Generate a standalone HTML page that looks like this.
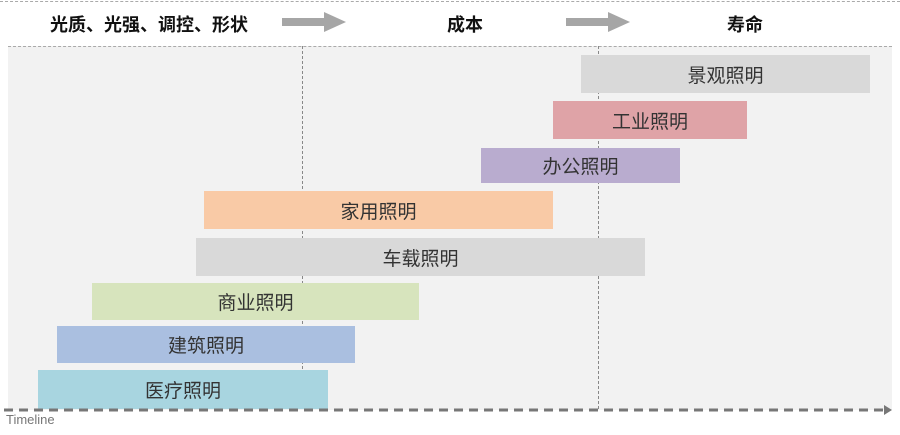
<!DOCTYPE html>
<html><head><meta charset="utf-8"><style>
body{margin:0;width:900px;height:435px;background:#fff;position:relative;overflow:hidden;font-family:"Liberation Sans","Noto Sans CJK SC",sans-serif}
.a{position:absolute}
.bar{position:absolute;display:flex;align-items:center;justify-content:center;font-size:19px;color:#333}
.h{position:absolute;font-weight:bold;font-size:18px;color:#111;top:11px}
</style></head><body>
<div class="a" style="left:0;top:1px;width:900px;border-top:1px dashed #aaa"></div>
<div class="a" style="left:8px;top:46px;width:884px;height:363px;background:#f2f2f2;border-top:1px dashed #aaa"></div>
<div class="a" style="left:302px;top:46px;height:363px;border-left:1px dashed #888"></div>
<div class="a" style="left:598px;top:46px;height:363px;border-left:1px dashed #888"></div>
<div class="h" style="left:50px">光质、光强、调控、形状</div>
<div class="h" style="left:447px">成本</div>
<div class="h" style="left:727px">寿命</div>
<svg class="a" style="left:0;top:0" width="900" height="46">
<rect x="282" y="18" width="44" height="8" fill="#a6a6a6"/><polygon points="324,12 346,22 324,32" fill="#a6a6a6"/>
<rect x="566" y="18" width="44" height="8" fill="#a6a6a6"/><polygon points="608,12 630,22 608,32" fill="#a6a6a6"/>
</svg>
<div class="bar" style="left:581px;top:55px;width:289px;height:38px;background:#d9d9d9">景观照明</div>
<div class="bar" style="left:553px;top:101px;width:194px;height:38px;background:#dfa3a7">工业照明</div>
<div class="bar" style="left:481px;top:148px;width:199px;height:35px;background:#b9accf">办公照明</div>
<div class="bar" style="left:204px;top:191px;width:349px;height:38px;background:#f9caa6">家用照明</div>
<div class="bar" style="left:196px;top:238px;width:449px;height:38px;background:#d9d9d9">车载照明</div>
<div class="bar" style="left:92px;top:283px;width:327px;height:37px;background:#d7e4bd">商业照明</div>
<div class="bar" style="left:57px;top:326px;width:298px;height:37px;background:#aabfe0">建筑照明</div>
<div class="bar" style="left:38px;top:370px;width:290px;height:39px;background:#a8d5e0">医疗照明</div>
<svg class="a" style="left:0;top:402px" width="900" height="16">
<line x1="4" y1="8" x2="884" y2="8" stroke="#777" stroke-width="3" stroke-dasharray="9,6"/>
<polygon points="884,3 892,8 884,13" fill="#777"/>
</svg>
<div class="a" style="left:6px;top:412px;font-size:13px;color:#777">Timeline</div>
</body></html>
